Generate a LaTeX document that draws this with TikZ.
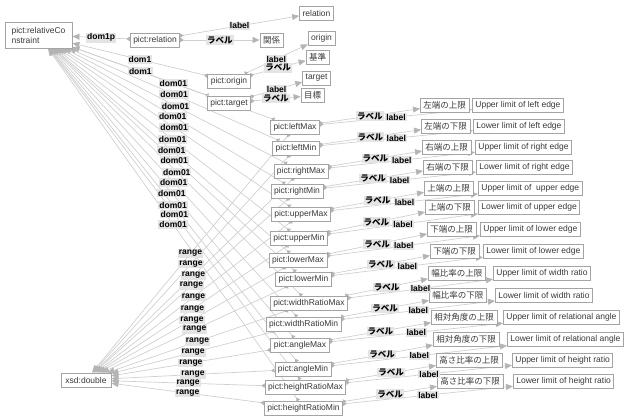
\documentclass[tikz,border=0pt]{standalone}
\usepackage{fontspec}
\setmainfont{Liberation Sans}
\newfontfamily\jpfont{Noto Sans CJK JP}
\usetikzlibrary{arrows.meta, backgrounds}
\definecolor{boxline}{HTML}{A4A4A4}
\definecolor{linkgray}{HTML}{D0D0D0}
\definecolor{tipgray}{HTML}{B4B4B4}
\definecolor{tagfill}{HTML}{E4E4E4}
\definecolor{inkgray}{HTML}{3A3A3A}
\newcommand\diagfont{\fontsize{8.5}{10}\selectfont}
\newcommand\proplist{leftMax,leftMin,rightMax,rightMin,upperMax,upperMin,lowerMax,lowerMin,widthRatioMax,widthRatioMin,angleMax,angleMin,heightRatioMax,heightRatioMin}

\begin{document}
\begin{tikzpicture}[x=1pt, y=-1pt, font=\diagfont]
    \tikzstyle{res} = [rectangle, draw=boxline, fill=white, line width=0.8pt, text=inkgray,
      inner xsep=3pt, inner ysep=2pt, minimum height=14pt]
    \tikzstyle{jp} = [font=\diagfont\jpfont]
    \tikzstyle{jpb} = [font=\diagfont\jpfont\bfseries]
    \tikzstyle{elabel} = [fill=tagfill, font=\diagfont\bfseries, inner sep=1pt, text=black]
    \tikzstyle{link} = [draw=linkgray, line width=0.7pt,
      {Triangle[reversed, length=3.5pt, width=4.5pt, color=tipgray]}-{Triangle[length=7pt, width=6pt, color=tipgray]}]

    \useasboundingbox (0,0) rectangle (636,417);

    % classes
    \node (rc)  [res, align=left, minimum width=67pt, minimum height=26pt] at (38.5,35) {pict:relativeCo\\nstraint};
    \node (xsd) [res, minimum width=50pt] at (86,380) {xsd:double};

    % top group: relation, origin, target
    \node (relation)    [res]     at (155,40)    {pict:relation};
    \node (relation-en) [res]     at (316.5,13)  {relation};
    \node (relation-jp) [res, jp] at (271.5,40)  {関係};
    \node (origin)      [res]     at (229,81)    {pict:origin};
    \node (origin-en)   [res]     at (321.5,38)  {origin};
    \node (origin-jp)   [res, jp] at (317.5,57.5) {基準};
    \node (target)      [res]     at (229,103)   {pict:target};
    \node (target-en)   [res]     at (316.5,78)  {target};
    \node (target-jp)   [res, jp] at (312.5,95.5) {目標};

    % properties with their two labels
    \foreach \nm/\px/\py/\ly/\jx/\ex/\jt/\et in {
      leftMax/295/127/105/420/472/左端の上限/Upper limit of left edge,
      leftMin/296/148/126/421/473/左端の下限/Lower limit of left edge,
      rightMax/301/171/147/422/475/右端の上限/Upper limit of right edge,
      rightMin/297/191/167/423/476/右端の下限/Lower limit of right edge,
      upperMax/301/214/188/424/478/上端の上限/Upper limit of~ upper edge,
      upperMin/299/238/207/425/478/上端の下限/Lower limit of upper edge,
      lowerMax/298/260/229/427/480/下端の上限/Upper limit of lower edge,
      lowerMin/303.5/279/251/430/483/下端の下限/Lower limit of lower edge,
      widthRatioMax/309/303/273/428/493/幅比率の上限/Upper limit of width ratio,
      widthRatioMin/303.5/324/295/429/495/幅比率の下限/Lower limit of width ratio,
      angleMax/300/345/317/431/503/相対角度の上限/Upper limit of relational angle,
      angleMin/303/369/339/433/507/相対角度の下限/Lower limit of relational angle,
      heightRatioMax/305.5/387/360/436/512/高さ比率の上限/Upper limit of height ratio,
      heightRatioMin/303.5/408/381/437/513/高さ比率の下限/Lower limit of height ratio}{
      \node (\nm)    [res]                 at (\px,\py) {pict:\nm};
      \node (\nm-jp) [res, jp, anchor=west] at (\jx,\ly) {\jt};
      \node (\nm-en) [res, anchor=west]     at (\ex,\ly) {\et};
    }

    % connectors behind the boxes, label spots kept as coordinates
    \begin{scope}[on background layer]
      \draw [link] (relation) -- coordinate[midway] (t-dom1p) (rc);
      \draw [link] (origin) -- coordinate[midway] (t-dom1a) (rc);
      \draw [link] (target) -- coordinate[midway] (t-dom1b) (rc);
      \draw [link] (relation) -- coordinate[midway] (t-rel-en) (relation-en);
      \draw [link] (relation) -- coordinate[midway] (t-rel-jp) (relation-jp);
      \draw [link] (origin) -- coordinate[midway] (t-ori-en) (origin-en);
      \draw [link] (origin) -- coordinate[midway] (t-ori-jp) (origin-jp);
      \draw [link] (target) -- coordinate[midway] (t-tar-en) (target-en);
      \draw [link] (target) -- coordinate[midway] (t-tar-jp) (target-jp);
      \foreach \nm in \proplist {
        \draw [link] (\nm) -- coordinate[midway] (\nm-d) (rc);
        \draw [link] (\nm) -- coordinate[midway] (\nm-r) (xsd);
        \draw [link] (\nm) -- coordinate[midway] (\nm-j) (\nm-jp);
        \draw [link] (\nm) -- coordinate[midway] (\nm-e) (\nm-en);
      }
    \end{scope}

    % connector labels
    \node [elabel] at (t-dom1p) {dom1p};
    \node [elabel] at (t-dom1a) {dom1};
    \node [elabel] at (t-dom1b) {dom1};
    \node [elabel] at (t-rel-en) {label};
    \node [elabel, jpb] at (t-rel-jp) {ラベル};
    \node [elabel] at (t-ori-en) {label};
    \node [elabel, jpb] at (t-ori-jp) {ラベル};
    \node [elabel] at (t-tar-en) {label};
    \node [elabel, jpb] at (t-tar-jp) {ラベル};
    \foreach \nm in \proplist {
      \node [elabel] at (\nm-d) {dom01};
      \node [elabel] at (\nm-r) {range};
      \node [elabel, jpb] at (\nm-j) {ラベル};
      \node [elabel] at (\nm-e) {label};
    }
\end{tikzpicture}
\end{document}
